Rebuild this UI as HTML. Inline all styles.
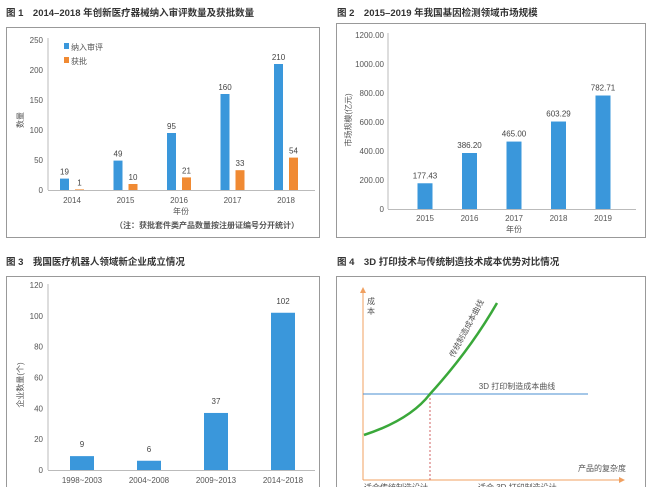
<!DOCTYPE html>
<html><head><meta charset="utf-8"><style>
html,body{margin:0;padding:0;background:#fff;}
svg{display:block;font-family:"Liberation Sans","Noto Sans CJK SC",sans-serif;}
.t{font-size:9.5px;font-weight:bold;fill:#333;}
.tk{font-size:8px;fill:#555;}
.v{font-size:8px;fill:#444;}
</style></head><body>
<svg id="s" width="650" height="487" viewBox="0 0 650 487">
<text class="t" x="6" y="16">图 1　2014–2018 年创新医疗器械纳入审评数量及获批数量</text>
<text class="t" x="337" y="16">图 2　2015–2019 年我国基因检测领域市场规模</text>
<text class="t" x="6" y="265">图 3　我国医疗机器人领域新企业成立情况</text>
<text class="t" x="337" y="265">图 4　3D 打印技术与传统制造技术成本优势对比情况</text>
<rect x="6.5" y="27.5" width="313" height="210" fill="none" stroke="#999"/>
<rect x="336.5" y="23.5" width="309" height="214" fill="none" stroke="#999"/>
<rect x="6.5" y="276.5" width="313" height="220" fill="none" stroke="#999"/>
<rect x="336.5" y="276.5" width="309" height="220" fill="none" stroke="#999"/>
<g id="c1"></g><g id="c2"></g><g id="c3"></g>
<g id="c4">
<defs><marker id="ar" markerWidth="6" markerHeight="6" refX="5" refY="3" orient="auto"><path d="M0,0 L6,3 L0,6 z" fill="#f0a060"/></marker></defs>
<line x1="363" y1="480" x2="363" y2="288" stroke="#f0a060" marker-end="url(#ar)"/>
<line x1="363" y1="480" x2="624" y2="480" stroke="#f0a060" marker-end="url(#ar)"/>
<line x1="363" y1="394" x2="588" y2="394" stroke="#4a8fd0" stroke-width="1"/>
<line x1="430" y1="394" x2="430" y2="480" stroke="#d06060" stroke-dasharray="2,2"/>
<path d="M364,435 Q410,420 430,394 Q470,350 497,303" fill="none" stroke="#3aa83a" stroke-width="2.5"/>
<text class="tk" x="367" y="304">成</text>
<text class="tk" x="367" y="314">本</text>
<text class="tk" x="517" y="389" text-anchor="middle">3D 打印制造成本曲线</text>
<text class="tk" transform="translate(454,358) rotate(-62)">传统制造成本曲线</text>
<text class="tk" x="578" y="471">产品的复杂度</text>
<text class="tk" x="364" y="490">适合传统制造设计</text>
<text class="tk" x="478" y="490">适合 3D 打印制造设计</text>
</g>
</svg>
<script>
const c1Cats=["2014","2015","2016","2017","2018"];
const c1Review=[19,49,95,160,210];
const c1Approved=[1,10,21,33,54];
const c1Ticks=[0,50,100,150,200,250];
const c2Cats=["2015","2016","2017","2018","2019"];
const c2Vals=[177.43,386.20,465.00,603.29,782.71];
const c2Ticks=[0,200,400,600,800,1000,1200];
const c2TickLabels=["0","200.00","400.00","600.00","800.00","1000.00","1200.00"];
const c3Cats=["1998~2003","2004~2008","2009~2013","2014~2018"];
const c3Vals=[9,6,37,102];
const c3Ticks=[0,20,40,60,80,100,120];
const NS="http://www.w3.org/2000/svg";
function mk(p,tag,a,txt){const e=document.createElementNS(NS,tag);for(const k in a)e.setAttribute(k,a[k]);if(txt!=null)e.textContent=txt;p.appendChild(e);return e;}
const BLUE="#3a97db",OR="#f08a33";
// chart1
(function(){const g=document.getElementById('c1');


const y=v=>190-v*150/250, x=i=>72+i*53.5;
c1Ticks.forEach(t=>{const e=mk(g,'text',{class:'tk',x:43,y:y(t)+3,'text-anchor':'end'},t);

});
mk(g,'line',{x1:48,y1:38,x2:48,y2:190,stroke:'#bbb'});
mk(g,'line',{x1:48,y1:190.5,x2:315,y2:190.5,stroke:'#bbb'});
c1Cats.forEach((c,i)=>{
const b=mk(g,'rect',{x:x(i)-12,y:y(c1Review[i]),width:9,height:190-y(c1Review[i]),fill:BLUE});


const o=mk(g,'rect',{x:x(i)+3,y:y(c1Approved[i]),width:9,height:190-y(c1Approved[i]),fill:OR});


mk(g,'text',{class:'v',x:x(i)-7.5,y:y(c1Review[i])-4,'text-anchor':'middle'},c1Review[i]);
mk(g,'text',{class:'v',x:x(i)+7.5,y:y(c1Approved[i])-4,'text-anchor':'middle'},c1Approved[i]);
const l=mk(g,'text',{class:'tk',x:x(i),y:203,'text-anchor':'middle'},c);

});
mk(g,'rect',{x:64,y:43,width:5,height:6,fill:BLUE});mk(g,'text',{class:'tk',x:71,y:50},'纳入审评');
mk(g,'rect',{x:64,y:57,width:5,height:6,fill:OR});mk(g,'text',{class:'tk',x:71,y:64},'获批');
mk(g,'text',{class:'tk',transform:'translate(23,120) rotate(-90)','text-anchor':'middle'},'数量');
mk(g,'text',{class:'tk',x:181,y:214,'text-anchor':'middle'},'年份');
mk(g,'text',{class:'tk',x:207,y:228,'text-anchor':'middle','font-weight':'bold'},'（注：获批套件类产品数量按注册证编号分开统计）');})();
// chart2
(function(){const g=document.getElementById('c2');


const y=v=>209-v*174/1200, x=i=>425+i*44.5;
c2Ticks.forEach((t,i)=>{const e=mk(g,'text',{class:'tk',x:384,y:y(t)+3,'text-anchor':'end'},c2TickLabels[i]);

});
mk(g,'line',{x1:388,y1:33,x2:388,y2:209,stroke:'#bbb'});
mk(g,'line',{x1:388,y1:209.5,x2:636,y2:209.5,stroke:'#bbb'});
c2Cats.forEach((c,i)=>{
const b=mk(g,'rect',{x:x(i)-7.5,y:y(c2Vals[i]),width:15,height:209-y(c2Vals[i]),fill:BLUE});


mk(g,'text',{class:'v',x:x(i),y:y(c2Vals[i])-5,'text-anchor':'middle'},c2Vals[i].toFixed(2));
const l=mk(g,'text',{class:'tk',x:x(i),y:221,'text-anchor':'middle'},c);

});
mk(g,'text',{class:'tk',transform:'translate(351,120) rotate(-90)','text-anchor':'middle'},'市场规模(亿元)');
mk(g,'text',{class:'tk',x:514,y:232,'text-anchor':'middle'},'年份');})();
// chart3
(function(){const g=document.getElementById('c3');


const y=v=>470-v*185/120, x=i=>82+i*67;
c3Ticks.forEach(t=>{const e=mk(g,'text',{class:'tk',x:43,y:y(t)+3,'text-anchor':'end'},t);

});
mk(g,'line',{x1:48,y1:284,x2:48,y2:470,stroke:'#bbb'});
mk(g,'line',{x1:48,y1:470.5,x2:315,y2:470.5,stroke:'#bbb'});
c3Cats.forEach((c,i)=>{
const b=mk(g,'rect',{x:x(i)-12,y:y(c3Vals[i]),width:24,height:470-y(c3Vals[i]),fill:BLUE});


mk(g,'text',{class:'v',x:x(i),y:y(c3Vals[i])-9,'text-anchor':'middle'},c3Vals[i]);
const l=mk(g,'text',{class:'tk',x:x(i),y:483,'text-anchor':'middle'},c);

});
mk(g,'text',{class:'tk',transform:'translate(23,385) rotate(-90)','text-anchor':'middle'},'企业数量(个)');})();
</script>
</body></html>
